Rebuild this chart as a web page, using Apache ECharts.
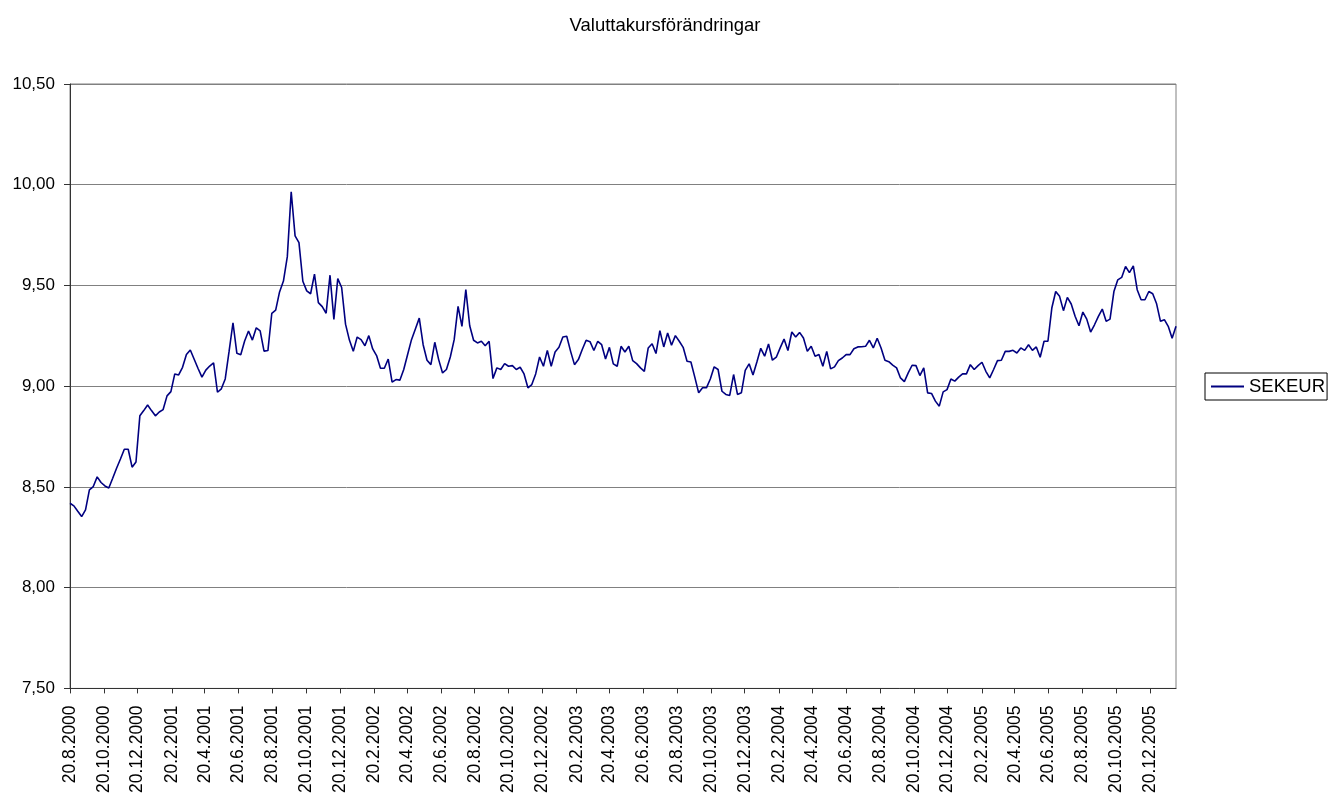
<!DOCTYPE html>
<html>
<head>
<meta charset="utf-8">
<script src="https://cdn.jsdelivr.net/npm/echarts@6/dist/echarts.min.js"></script>
<style>
html,body{margin:0;padding:0;background:#fff;}
#chart{width:1330px;height:796px;}
</style>
</head>
<body>
<div id="chart"></div>
<script>
// Weekly observations, first one on 20.8.2000
var startDate = [2000, 8, 20]; // year, month, day
var stepDays = 7;
var seriesName = 'SEKEUR';
var sekeur = [
8.419,8.406,8.379,8.353,8.386,8.485,8.502,8.550,8.522,8.505,
8.495,8.543,8.593,8.639,8.687,8.687,8.598,8.624,8.853,8.879,
8.907,8.879,8.853,8.872,8.884,8.952,8.973,9.061,9.056,9.094,
9.157,9.180,9.134,9.088,9.045,9.080,9.100,9.116,8.970,8.987,
9.036,9.174,9.315,9.163,9.156,9.224,9.274,9.229,9.290,9.275,
9.174,9.177,9.362,9.378,9.468,9.522,9.643,9.965,9.746,9.713,
9.521,9.473,9.459,9.556,9.415,9.395,9.362,9.551,9.332,9.534,
9.490,9.308,9.229,9.173,9.244,9.231,9.201,9.251,9.185,9.152,
9.089,9.089,9.135,9.020,9.033,9.030,9.083,9.157,9.231,9.284,
9.338,9.206,9.129,9.107,9.218,9.132,9.066,9.083,9.145,9.231,
9.396,9.297,9.479,9.300,9.228,9.215,9.223,9.201,9.223,9.038,
9.091,9.083,9.112,9.099,9.102,9.083,9.094,9.061,8.992,9.008,
9.061,9.145,9.099,9.178,9.099,9.170,9.193,9.244,9.248,9.173,
9.107,9.132,9.182,9.228,9.221,9.177,9.223,9.206,9.135,9.193,
9.111,9.099,9.198,9.170,9.198,9.127,9.112,9.091,9.074,9.190,
9.211,9.162,9.276,9.195,9.264,9.203,9.251,9.223,9.193,9.124,
9.120,9.045,8.967,8.992,8.992,9.036,9.096,9.083,8.975,8.959,
8.954,9.058,8.959,8.967,9.079,9.111,9.056,9.120,9.188,9.149,
9.210,9.129,9.144,9.190,9.234,9.177,9.269,9.244,9.267,9.239,
9.173,9.198,9.149,9.157,9.099,9.173,9.086,9.096,9.127,9.140,
9.157,9.157,9.186,9.195,9.196,9.198,9.228,9.190,9.238,9.190,
9.129,9.122,9.105,9.091,9.041,9.023,9.066,9.104,9.102,9.053,
9.091,8.967,8.964,8.926,8.901,8.972,8.983,9.036,9.025,9.045,
9.061,9.061,9.107,9.083,9.102,9.119,9.074,9.041,9.083,9.127,
9.129,9.173,9.173,9.178,9.165,9.190,9.178,9.206,9.178,9.195,
9.144,9.223,9.223,9.388,9.470,9.446,9.375,9.441,9.408,9.347,
9.300,9.368,9.333,9.269,9.305,9.347,9.383,9.322,9.333,9.470,
9.528,9.540,9.594,9.564,9.597,9.479,9.429,9.429,9.470,9.459,
9.409,9.322,9.330,9.297,9.238,9.297
];
var xTickLabels = [
'20.8.2000','20.10.2000','20.12.2000',
'20.2.2001','20.4.2001','20.6.2001','20.8.2001','20.10.2001','20.12.2001',
'20.2.2002','20.4.2002','20.6.2002','20.8.2002','20.10.2002','20.12.2002',
'20.2.2003','20.4.2003','20.6.2003','20.8.2003','20.10.2003','20.12.2003',
'20.2.2004','20.4.2004','20.6.2004','20.8.2004','20.10.2004','20.12.2004',
'20.2.2005','20.4.2005','20.6.2005','20.8.2005','20.10.2005','20.12.2005'
];
var yTickLabels = ['7,50','8,00','8,50','9,00','9,50','10,00','10,50'];
var chartTitle = 'Valuttakursförändringar';

var DAY = 86400000;
var t0 = Date.UTC(startDate[0], startDate[1]-1, startDate[2]);
// x is measured in days after the first observation
var points = sekeur.map(function(v,i){ return [i*stepDays, v]; });
var xEnd = (sekeur.length-1)*stepDays;
function parseD(s){ var p = s.split('.'); return Math.round((Date.UTC(+p[2], +p[1]-1, +p[0]) - t0)/DAY); }
var tickDays = xTickLabels.map(parseD);
var labelMap = {};
tickDays.forEach(function(t,i){ labelMap[t] = xTickLabels[i]; });
var yMin = parseFloat(yTickLabels[0].replace(',','.'));
var yMax = parseFloat(yTickLabels[yTickLabels.length-1].replace(',','.'));

var FONT = "'Liberation Sans', Arial, sans-serif";
var chart = echarts.init(document.getElementById('chart'), null, {renderer:'canvas'});
chart.setOption({
  animation: false,
  backgroundColor: '#ffffff',
  title: {
    text: chartTitle,
    left: 'center',
    top: 11,
    textStyle: {fontFamily: FONT, fontSize: 18.5, fontWeight: 'normal', color: '#000'}
  },
  legend: {
    data: [seriesName],
    left: 1205,
    top: 373,
    orient: 'vertical',
    icon: 'rect',
    itemWidth: 33,
    itemHeight: 2,
    itemGap: 0,
    padding: [4, 2, 4, 6],
    borderColor: '#000',
    borderWidth: 1,
    borderRadius: 0,
    textStyle: {fontFamily: FONT, fontSize: 18.5, color: '#000'}
  },
  grid: {left: 70, right: 154, top: 84, bottom: 107, show: true, borderColor: '#808080', borderWidth: 1, backgroundColor: '#fff'},
  xAxis: {
    type: 'value',
    min: 0,
    max: xEnd,
    axisLine: {show: true, onZero: false, lineStyle: {color: '#333', width: 1}},
    axisTick: {show: true, length: 5, customValues: tickDays, lineStyle: {color: '#333'}},
    splitLine: {show: false},
    axisLabel: {
      customValues: tickDays,
      rotate: 90,
      margin: 17,
      fontFamily: FONT,
      fontSize: 17.5,
      color: '#000',
      formatter: function(v){
        if (labelMap[v] !== undefined) return labelMap[v];
        var d = new Date(t0 + v*DAY);
        return d.getUTCDate() + '.' + (d.getUTCMonth()+1) + '.' + d.getUTCFullYear();
      }
    }
  },
  yAxis: {
    type: 'value',
    min: yMin,
    max: yMax,
    interval: 0.5,
    axisLine: {show: true, lineStyle: {color: '#333', width: 1}},
    axisTick: {show: true, length: 6, lineStyle: {color: '#333'}},
    splitLine: {show: true, lineStyle: {color: '#808080', width: 1}},
    axisLabel: {
      margin: 15,
      fontFamily: FONT,
      fontSize: 17,
      color: '#000',
      formatter: function(v){ return v.toFixed(2).replace('.', ','); }
    }
  },
  series: [{
    name: seriesName,
    type: 'line',
    data: points,
    symbol: 'none',
    showSymbol: false,
    lineStyle: {color: '#000080', width: 1.6},
    itemStyle: {color: '#000080'}
  }]
});
</script>
</body>
</html>
